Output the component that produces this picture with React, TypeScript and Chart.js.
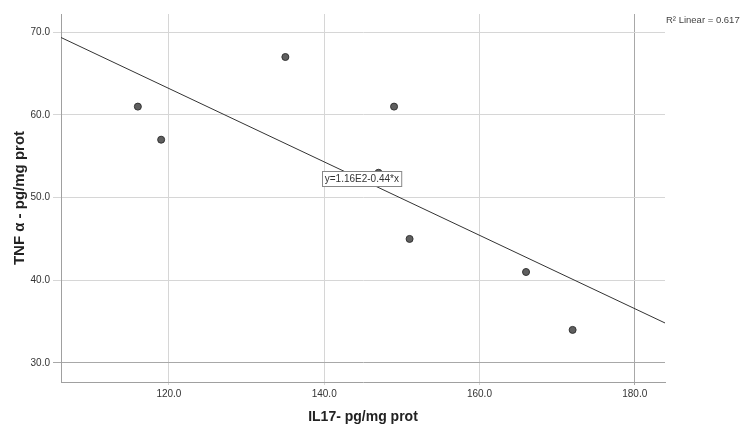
import React, { useEffect, useRef } from "react";
import { Chart, registerables } from "chart.js";
Chart.register(...registerables);

const il17 = [116, 119, 135, 147, 149, 151, 166, 172];
const tnf = [61, 57, 67, 53, 61, 45, 41, 34];
const xTicks = [120, 140, 160, 180];
const yTicks = [30, 40, 50, 60, 70];
const xRange = [106.1, 183.9];
const yRange = [27.7, 72.2];
const xTitle = "IL17- pg/mg prot";
const yTitle = "TNF α - pg/mg prot";
const eqAnchor = [144.85, 52.25];

function linearFit(xs: number[], ys: number[]) {
  const n = xs.length;
  const mx = xs.reduce((a, b) => a + b, 0) / n;
  const my = ys.reduce((a, b) => a + b, 0) / n;
  let sxy = 0, sxx = 0, syy = 0;
  for (let i = 0; i < n; i++) {
    sxy += (xs[i] - mx) * (ys[i] - my);
    sxx += (xs[i] - mx) ** 2;
    syy += (ys[i] - my) ** 2;
  }
  const slope = sxy / sxx;
  const intercept = my - slope * mx;
  const r2 = (sxy * sxy) / (sxx * syy);
  return { slope, intercept, r2 };
}

const FONT = "'Liberation Sans', Arial, sans-serif";

export default function App() {
  const ref = useRef<HTMLCanvasElement | null>(null);
  useEffect(() => {
    if (!ref.current) return;
    const { slope, intercept, r2 } = linearFit(il17, tnf);
    const eqText =
      "y=" + intercept.toExponential(2).replace("e+", "E") + (slope < 0 ? "-" : "+") + Math.abs(slope).toFixed(2) + "*x";
    const r2Text = "R² Linear = " + r2.toFixed(3);

    const annot = {
      id: "annot",
      afterDatasetsDraw(chart: any) {
        const ctx = chart.ctx;
        const xs = chart.scales.x;
        const ys = chart.scales.y;
        ctx.save();
        ctx.font = "10px " + FONT;
        const w = ctx.measureText(eqText).width + 5;
        const h = 15;
        const cx = xs.getPixelForValue(eqAnchor[0]);
        const cy = ys.getPixelForValue(eqAnchor[1]);
        const bx = Math.round(cx - w / 2) + 0.5;
        const by = Math.round(cy - h / 2) + 0.5;
        ctx.fillStyle = "#ffffff";
        ctx.fillRect(bx, by, w, h);
        ctx.strokeStyle = "#888888";
        ctx.lineWidth = 1;
        ctx.strokeRect(bx, by, w, h);
        ctx.fillStyle = "#333333";
        ctx.textAlign = "center";
        ctx.textBaseline = "middle";
        ctx.fillText(eqText, cx, cy + 0.5);
        ctx.font = "9.5px " + FONT;
        ctx.textAlign = "left";
        ctx.fillStyle = "#444444";
        ctx.fillText(r2Text, chart.chartArea.right + 1, 20);
        ctx.restore();
      },
    };

    const chart = new Chart(ref.current, {
      type: "scatter",
      data: {
        datasets: [
          {
            type: "scatter",
            data: il17.map((x, i) => ({ x, y: tnf[i] })),
            pointRadius: 3.5,
            pointBackgroundColor: "#5f5f5f",
            pointBorderColor: "#333333",
            pointBorderWidth: 1,
            order: 1,
          },
          {
            type: "line",
            data: xRange.map((x) => ({ x, y: intercept + slope * x })),
            borderColor: "#333333",
            borderWidth: 1,
            pointRadius: 0,
            fill: false,
            order: 2,
          } as any,
        ],
      },
      options: {
        animation: false,
        responsive: false,
        devicePixelRatio: 1,
        layout: { padding: { top: 14, right: 76, left: 0, bottom: 0 } },
        plugins: { legend: { display: false }, tooltip: { enabled: false } },
        scales: {
          x: {
            type: "linear",
            min: xRange[0],
            max: xRange[1],
            afterBuildTicks: (s: any) => {
              s.ticks = xTicks.map((v) => ({ value: v }));
            },
            afterFit: (s: any) => {
              s.height = 44;
            },
            grid: {
              color: (c: any) => (c.tick && c.tick.value === 180 ? "#a8a8a8" : "#d6d6d6"),
              tickLength: 3,
              lineWidth: 1,
            },
            border: { color: "#a0a0a0", width: 1 },
            ticks: {
              font: { family: FONT, size: 10 },
              color: "#333333",
              padding: 3,
              maxRotation: 0,
              callback: (v: any) => Number(v).toFixed(1),
            },
            title: {
              display: true,
              text: xTitle,
              font: { family: FONT, size: 14, weight: "bold" },
              color: "#222222",
              padding: { top: 0, bottom: 0 },
            },
          },
          y: {
            type: "linear",
            min: yRange[0],
            max: yRange[1],
            afterBuildTicks: (s: any) => {
              s.ticks = yTicks.map((v) => ({ value: v }));
            },
            afterFit: (s: any) => {
              s.width = 61;
            },
            grid: {
              color: (c: any) => (c.tick && c.tick.value === 30 ? "#a8a8a8" : "#d6d6d6"),
              tickLength: 8,
              lineWidth: 1,
            },
            border: { color: "#a0a0a0", width: 1 },
            ticks: {
              font: { family: FONT, size: 10 },
              color: "#333333",
              padding: 3,
              callback: (v: any) => Number(v).toFixed(1),
            },
            title: {
              display: true,
              text: yTitle,
              font: { family: FONT, size: 15, weight: "bold" },
              color: "#222222",
              padding: { top: 11, bottom: 0 },
            },
          },
        },
      },
      plugins: [annot],
    } as any);
    return () => chart.destroy();
  }, []);

  return (
    <div style={{ position: "fixed", left: 0, top: 0, width: 741, height: 426, background: "#ffffff" }}>
      <canvas ref={ref} width={741} height={426} style={{ width: 741, height: 426, display: "block" }} />
    </div>
  );
}
